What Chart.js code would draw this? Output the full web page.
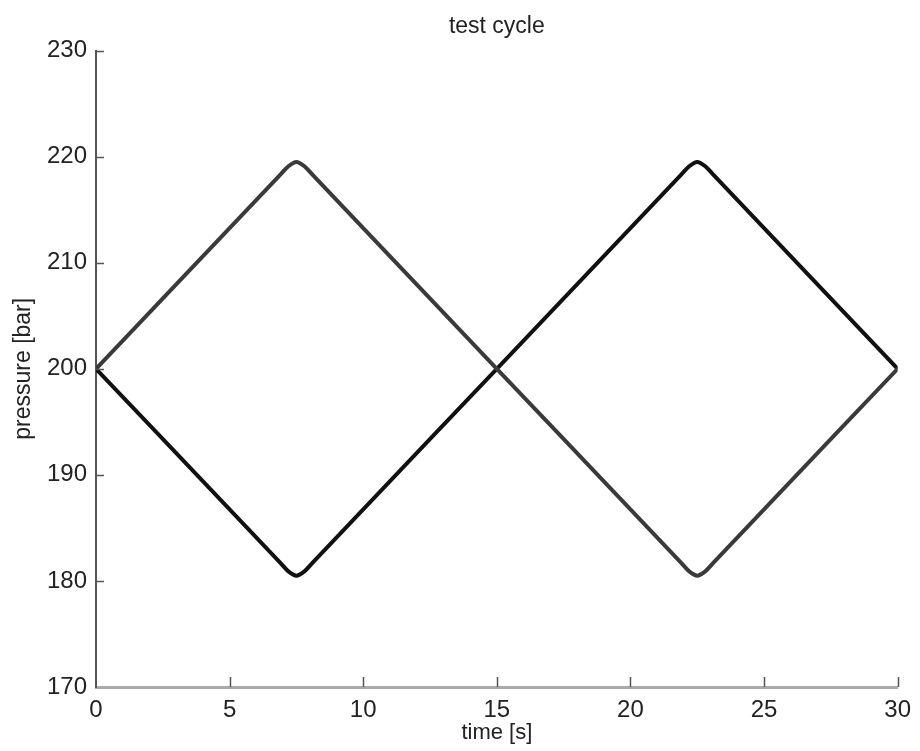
<!DOCTYPE html>
<html lang="en">
<head>
    <meta charset="UTF-8">
    <title>test cycle</title>
    <script src="https://cdn.jsdelivr.net/npm/chart.js"></script>
    <style>
        html, body { margin: 0; padding: 0; background: #fff; }
        #wrap { width: 920px; height: 751px; }
    </style>
</head>
<body>
    <div id="wrap">
        <canvas id="myChart" width="920" height="751"></canvas>
    </div>

    <script>
        // time axis samples and the two pressure traces
        var timeS = [0, 6.9, 7.2, 7.5, 7.8, 8.1, 15, 21.9, 22.2, 22.5, 22.8, 23.1, 30];
        var pressureUp = [200, 218.3, 219.1, 219.5, 219.1, 218.3, 200, 181.7, 180.9, 180.5, 180.9, 181.7, 200];
        var pressureDown = [200, 181.7, 180.9, 180.5, 180.9, 181.7, 200, 218.3, 219.1, 219.5, 219.1, 218.3, 200];

        var xTicks = [0, 5, 10, 15, 20, 25, 30];
        var yTicks = [170, 180, 190, 200, 210, 220, 230];

        function toPoints(ys) {
            return timeS.map(function (t, i) { return { x: t, y: ys[i] }; });
        }

        // small inward tick marks, like the original axes
        var inwardTicks = {
            id: 'inwardTicks',
            afterDatasetsDraw: function (chart) {
                var ctx = chart.ctx, area = chart.chartArea;
                var xs = chart.scales.x, ys = chart.scales.y;
                ctx.save();
                ctx.strokeStyle = '#555';
                ctx.lineWidth = 1.5;
                ctx.beginPath();
                xTicks.forEach(function (v) {
                    if (v === 0) return;
                    var px = Math.round(xs.getPixelForValue(v)) + 0.5;
                    ctx.moveTo(px, area.bottom);
                    ctx.lineTo(px, area.bottom - 10);
                });
                yTicks.forEach(function (v) {
                    if (v === 170) return;
                    var py = Math.round(ys.getPixelForValue(v)) + 0.5;
                    ctx.moveTo(area.left, py);
                    ctx.lineTo(area.left + 8, py);
                });
                ctx.stroke();
                ctx.restore();
            }
        };

        var font = "'Liberation Sans', Arial, Helvetica, sans-serif";

        var ctx = document.getElementById('myChart').getContext('2d');
        var myChart = new Chart(ctx, {
            type: 'line',
            data: {
                datasets: [{
                    data: toPoints(pressureUp),
                    borderColor: '#3a3a3a',
                    borderWidth: 4,
                    pointRadius: 0,
                    fill: false,
                    cubicInterpolationMode: 'monotone'
                }, {
                    data: toPoints(pressureDown),
                    borderColor: '#111111',
                    borderWidth: 4,
                    pointRadius: 0,
                    fill: false,
                    cubicInterpolationMode: 'monotone'
                }]
            },
            options: {
                responsive: false,
                animation: false,
                layout: { padding: { left: 0, right: 20, top: 0, bottom: 0 } },
                plugins: {
                    legend: { display: false },
                    tooltip: { enabled: false },
                    title: {
                        display: true,
                        fullSize: false,   // center over the plot area, not the canvas
                        text: 'test cycle',
                        color: '#222',
                        font: { family: font, size: 23, weight: 'normal' },
                        padding: { top: 13, bottom: 10 }
                    }
                },
                scales: {
                    x: {
                        type: 'linear',
                        min: 0,
                        max: 30,
                        afterFit: function (s) { s.height = 64; },
                        afterBuildTicks: function (s) {
                            s.ticks = xTicks.map(function (v) { return { value: v }; });
                        },
                        grid: { display: false, drawTicks: false },
                        border: { display: true, color: '#aaaaaa', width: 3 },
                        ticks: {
                            color: '#222',
                            padding: 9,
                            font: { family: font, size: 24 }
                        },
                        title: {
                            display: true,
                            text: 'time [s]',
                            color: '#222',
                            font: { family: font, size: 22 },
                            padding: { top: 0, bottom: 5 }
                        }
                    },
                    y: {
                        min: 170,
                        max: 230,
                        afterFit: function (s) { s.width = 96; },
                        afterBuildTicks: function (s) {
                            s.ticks = yTicks.map(function (v) { return { value: v }; });
                        },
                        grid: { display: false, drawTicks: false },
                        border: { display: true, color: '#555555', width: 2 },
                        ticks: {
                            color: '#222',
                            padding: 9,
                            font: { family: font, size: 24 }
                        },
                        title: {
                            display: true,
                            text: 'pressure [bar]',
                            color: '#222',
                            font: { family: font, size: 23 },
                            padding: { top: 10, bottom: 0 }
                        }
                    }
                }
            },
            plugins: [inwardTicks]
        });
    </script>
</body>
</html>
